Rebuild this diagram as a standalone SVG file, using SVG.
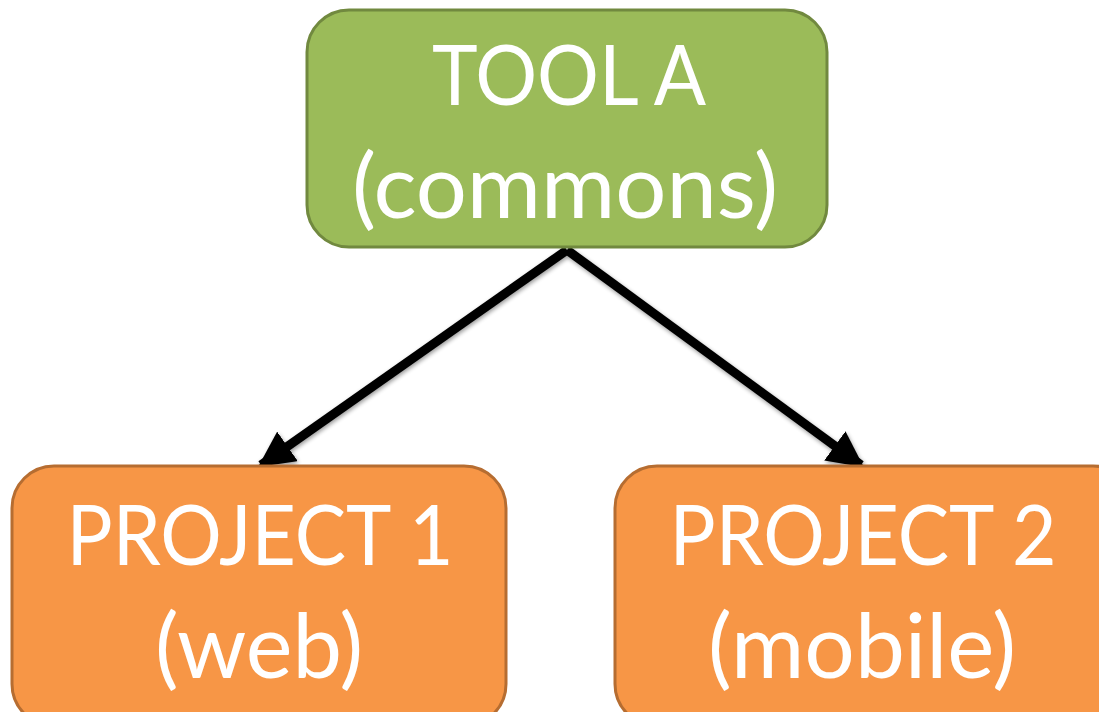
<svg xmlns="http://www.w3.org/2000/svg" width="1099" height="712" viewBox="0 0 1099 712">
<defs>
<style>
.box-green{fill:#9BBB59;stroke:#71893F;stroke-width:3}
.box-orange{fill:#F79646;stroke:#B66D31;stroke-width:3}
.lbl{fill:#FFFFFF;font-family:Lato,"Open Sans","Liberation Sans",sans-serif;text-anchor:middle}
.l1{font-size:84px}
.l2{font-size:90px}
.conn{stroke:#000;stroke-width:9;fill:none}
</style>
<marker id="arrow" viewBox="0 0 10 10" refX="9" refY="5" markerWidth="4" markerHeight="4" orient="auto" markerUnits="strokeWidth">
<path d="M0,0 L10,5 L0,10 z" fill="#000"/>
</marker>
<filter id="sh" x="-10%" y="-10%" width="120%" height="120%">
<feGaussianBlur in="SourceAlpha" stdDeviation="2"/>
<feOffset dx="1" dy="2" result="b"/>
<feComponentTransfer><feFuncA type="linear" slope="0.4"/></feComponentTransfer>
<feMerge><feMergeNode/><feMergeNode in="SourceGraphic"/></feMerge>
</filter>
</defs>
<rect width="1099" height="712" fill="#FFFFFF"/>
<g id="connectors" filter="url(#sh)">
<line class="conn" x1="567" y1="250" x2="261" y2="465" marker-end="url(#arrow)"/>
<line class="conn" x1="567" y1="250" x2="861" y2="465" marker-end="url(#arrow)"/>
</g>
<g id="tool-a">
<rect class="box-green" x="307" y="10" width="520" height="237" rx="42"/>
<text class="lbl l1" x="569" y="105" textLength="274" lengthAdjust="spacingAndGlyphs">TOOL A</text>
<text class="lbl l2" x="565" y="218" textLength="426" lengthAdjust="spacingAndGlyphs">(commons)</text>
</g>
<g id="project-1">
<rect class="box-orange" x="12" y="466" width="494" height="260" rx="42"/>
<text class="lbl l1" x="260" y="565" textLength="387" lengthAdjust="spacingAndGlyphs">PROJECT 1</text>
<text class="lbl l2" x="259" y="678" textLength="208" lengthAdjust="spacingAndGlyphs">(web)</text>
</g>
<g id="project-2">
<rect class="box-orange" x="615" y="466" width="520" height="260" rx="42"/>
<text class="lbl l1" x="863" y="565" textLength="387" lengthAdjust="spacingAndGlyphs">PROJECT 2</text>
<text class="lbl l2" x="862" y="678" textLength="308" lengthAdjust="spacingAndGlyphs">(mobile)</text>
</g>
</svg>
